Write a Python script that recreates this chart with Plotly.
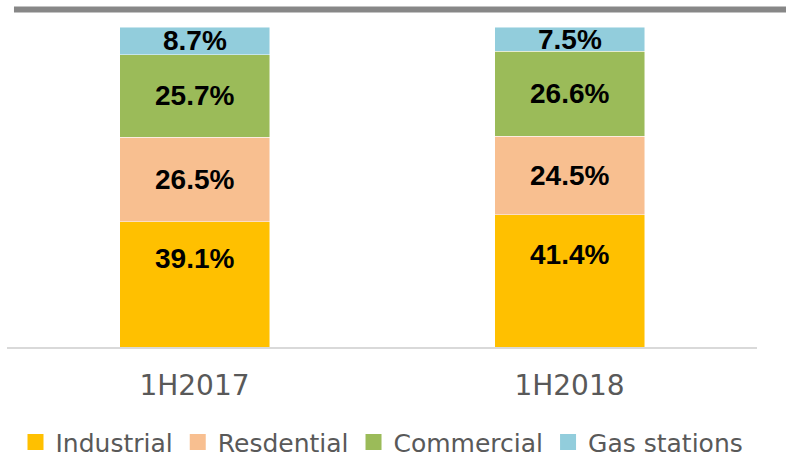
import plotly.graph_objects as go

categories = ["1H2017", "1H2018"]
series_names = ["Industrial", "Resdential", "Commercial", "Gas stations"]
industrial = [39.1, 41.4]
residential = [26.5, 24.5]
commercial = [25.7, 26.6]
gas_stations = [8.7, 7.5]
series_values = [industrial, residential, commercial, gas_stations]
colors = ["#FFC000", "#F8BF90", "#9BBB59", "#92CDDC"]

fig = go.Figure()
for name, vals, col in zip(series_names, series_values, colors):
    fig.add_trace(go.Bar(x=categories, y=vals, name=name, marker=dict(color=col, line=dict(width=0.8, color="rgba(255,255,255,0.6)")),
                         showlegend=False, width=0.4, hoverinfo="skip"))
    fig.add_trace(go.Scatter(x=[categories[0]], y=[None], mode="markers", name=name,
                             marker=dict(symbol="square", size=16, color=col), showlegend=True))

# labels
annotations = []
for si, vals in enumerate(series_values):
    for ci, cat in enumerate(categories):
        base = sum(series_values[k][ci] for k in range(si))
        annotations.append(dict(x=cat, y=base + vals[ci] / 2, text=f"{vals[ci]:.1f}%", showarrow=False,
                                yshift=26 if si == 0 else 0,
                                font=dict(family="Liberation Sans", size=28, color="black", weight="bold")))

fig.update_layout(
    barmode="stack",
    width=786, height=458,
    margin=dict(l=7, r=29, t=27, b=111, autoexpand=False),
    plot_bgcolor="white", paper_bgcolor="white",
    annotations=annotations,
    showlegend=True,
    legend=dict(orientation="h", x=0.5, xanchor="center", y=-0.298, yanchor="middle",
                traceorder="normal", font=dict(family="DejaVu Sans", size=25, color="#595959"),
                itemwidth=30, tracegroupgap=0),
    shapes=[dict(type="line", xref="paper", yref="paper", x0=0.0093, x1=1.04, y0=1.0547, y1=1.0547,
                 line=dict(color="#878787", width=6))],
)
fig.update_xaxes(showline=True, linecolor="#D9D9D9", linewidth=1.5, showgrid=False, ticks="",
                 ticklabelstandoff=13,
                 tickfont=dict(family="DejaVu Sans", size=28, color="#595959"))
fig.update_yaxes(range=[0, 100], visible=False, showgrid=False)

fig.write_html("out.html", config={"displayModeBar": False, "staticPlot": True},
               post_script="document.body.style.margin='0';document.body.style.overflow='hidden';")
